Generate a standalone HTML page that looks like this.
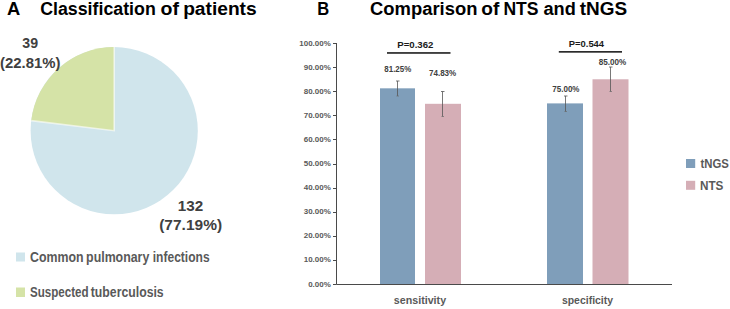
<!DOCTYPE html>
<html><head><meta charset="utf-8"><style>
html,body{margin:0;padding:0;background:#fff;overflow:hidden;width:730px;height:309px;}
svg{display:block;}
text{font-family:"Liberation Sans",sans-serif;}
</style></head><body>
<svg width="730" height="309" viewBox="0 0 730 309">
<rect width="730" height="309" fill="#fff"/>
<circle cx="114.2" cy="130.7" r="83.6" fill="#d0e5ec"/>
<path d="M114.2 130.7 L114.2 47.099999999999994 A83.6 83.6 0 0 0 31.21 120.66 Z" fill="#d5e3a7"/>
<path d="M31.21 120.66 L114.2 130.7 L114.2 47.099999999999994" fill="none" stroke="#fff" stroke-opacity="0.6" stroke-width="1.6"/>
<rect x="16" y="252.5" width="9" height="9" fill="#d0e5ec"/>
<rect x="16" y="287.5" width="9" height="9.5" fill="#d5e3a7"/>
<rect x="380" y="88.33" width="35" height="195.67" fill="#7f9eba"/><rect x="425" y="103.81" width="36" height="180.19" fill="#d5aeb6"/><rect x="547" y="103.40" width="36" height="180.60" fill="#7f9eba"/><rect x="592.5" y="79.28" width="36.0" height="204.72" fill="#d5aeb6"/>
<line x1="397.5" y1="81" x2="397.5" y2="96" stroke="#555555" stroke-width="0.8"/><line x1="396.0" y1="81" x2="399.5" y2="81" stroke="#555555" stroke-width="0.8"/><line x1="396.5" y1="96" x2="399.0" y2="96" stroke="#6a6a6a" stroke-width="0.7"/><line x1="442.5" y1="91.5" x2="442.5" y2="116.5" stroke="#555555" stroke-width="0.8"/><line x1="441.0" y1="91.5" x2="444.5" y2="91.5" stroke="#555555" stroke-width="0.8"/><line x1="441.5" y1="116.5" x2="444.0" y2="116.5" stroke="#6a6a6a" stroke-width="0.7"/><line x1="565.5" y1="96" x2="565.5" y2="111.5" stroke="#555555" stroke-width="0.8"/><line x1="564.0" y1="96" x2="567.5" y2="96" stroke="#555555" stroke-width="0.8"/><line x1="564.5" y1="111.5" x2="567.0" y2="111.5" stroke="#6a6a6a" stroke-width="0.7"/><line x1="610.5" y1="67" x2="610.5" y2="91.5" stroke="#555555" stroke-width="0.8"/><line x1="609.0" y1="67" x2="612.5" y2="67" stroke="#555555" stroke-width="0.8"/><line x1="609.5" y1="91.5" x2="612.0" y2="91.5" stroke="#6a6a6a" stroke-width="0.7"/>
<path d="M336.5 43 V284.5 H672" fill="none" stroke="#4a4a4a" stroke-width="1"/>
<line x1="333" y1="284.5" x2="336.5" y2="284.5" stroke="#4a4a4a" stroke-width="1"/><line x1="333" y1="260.5" x2="336.5" y2="260.5" stroke="#4a4a4a" stroke-width="1"/><line x1="333" y1="236.5" x2="336.5" y2="236.5" stroke="#4a4a4a" stroke-width="1"/><line x1="333" y1="212.5" x2="336.5" y2="212.5" stroke="#4a4a4a" stroke-width="1"/><line x1="333" y1="188.5" x2="336.5" y2="188.5" stroke="#4a4a4a" stroke-width="1"/><line x1="333" y1="164.5" x2="336.5" y2="164.5" stroke="#4a4a4a" stroke-width="1"/><line x1="333" y1="139.5" x2="336.5" y2="139.5" stroke="#4a4a4a" stroke-width="1"/><line x1="333" y1="115.5" x2="336.5" y2="115.5" stroke="#4a4a4a" stroke-width="1"/><line x1="333" y1="91.5" x2="336.5" y2="91.5" stroke="#4a4a4a" stroke-width="1"/><line x1="333" y1="67.5" x2="336.5" y2="67.5" stroke="#4a4a4a" stroke-width="1"/><line x1="333" y1="43.5" x2="336.5" y2="43.5" stroke="#4a4a4a" stroke-width="1"/>
<rect x="387" y="52.1" width="63.5" height="1.7" fill="#2b2b2b"/><rect x="558.8" y="51.0" width="63.2" height="1.7" fill="#2b2b2b"/>
<rect x="686" y="159" width="9.2" height="9" fill="#7f9eba"/>
<rect x="686" y="180.8" width="9.2" height="9" fill="#d5aeb6"/>
<text x="6.94" y="14.80" font-size="19.055" font-weight="bold" fill="#000000" textLength="13.26" lengthAdjust="spacingAndGlyphs">A</text>
<text x="40.19" y="14.80" font-size="19.055" font-weight="bold" fill="#000000" textLength="115.57" lengthAdjust="spacingAndGlyphs">Classification</text>
<text x="160.62" y="14.80" font-size="19.055" font-weight="bold" fill="#000000" textLength="18.46" lengthAdjust="spacingAndGlyphs">of</text>
<text x="183.15" y="14.80" font-size="19.055" font-weight="bold" fill="#000000" textLength="73.54" lengthAdjust="spacingAndGlyphs">patients</text>
<text x="317.28" y="15.00" font-size="18.764" font-weight="bold" fill="#000000" textLength="11.96" lengthAdjust="spacingAndGlyphs">B</text>
<text x="370.06" y="15.00" font-size="18.764" font-weight="bold" fill="#000000" textLength="107.37" lengthAdjust="spacingAndGlyphs">Comparison</text>
<text x="481.24" y="15.00" font-size="18.764" font-weight="bold" fill="#000000" textLength="18.04" lengthAdjust="spacingAndGlyphs">of</text>
<text x="503.42" y="15.00" font-size="18.764" font-weight="bold" fill="#000000" textLength="35.09" lengthAdjust="spacingAndGlyphs">NTS</text>
<text x="543.45" y="15.00" font-size="18.764" font-weight="bold" fill="#000000" textLength="32.33" lengthAdjust="spacingAndGlyphs">and</text>
<text x="579.76" y="15.00" font-size="18.764" font-weight="bold" fill="#000000" textLength="47.40" lengthAdjust="spacingAndGlyphs">tNGS</text>
<text x="22.28" y="48.00" font-size="13.763" font-weight="bold" fill="#404040" textLength="15.75" lengthAdjust="spacingAndGlyphs">39</text>
<text x="-0.05" y="68.00" font-size="13.763" font-weight="bold" fill="#404040" textLength="60.49" lengthAdjust="spacingAndGlyphs">(22.81%)</text>
<text x="177.85" y="210.90" font-size="13.763" font-weight="bold" fill="#404040" textLength="25.37" lengthAdjust="spacingAndGlyphs">132</text>
<text x="159.23" y="230.00" font-size="13.907" font-weight="bold" fill="#404040" textLength="62.85" lengthAdjust="spacingAndGlyphs">(77.19%)</text>
<text x="30.11" y="261.90" font-size="14.691" font-weight="bold" fill="#595959" textLength="53.44" lengthAdjust="spacingAndGlyphs">Common</text>
<text x="86.10" y="261.90" font-size="14.691" font-weight="bold" fill="#595959" textLength="63.19" lengthAdjust="spacingAndGlyphs">pulmonary</text>
<text x="152.76" y="261.90" font-size="14.691" font-weight="bold" fill="#595959" textLength="56.83" lengthAdjust="spacingAndGlyphs">infections</text>
<text x="29.95" y="297.40" font-size="14.691" font-weight="bold" fill="#595959" textLength="58.60" lengthAdjust="spacingAndGlyphs">Suspected</text>
<text x="90.75" y="297.40" font-size="14.691" font-weight="bold" fill="#595959" textLength="72.96" lengthAdjust="spacingAndGlyphs">tuberculosis</text>
<text x="308.16" y="286.50" font-size="7.742" font-weight="bold" fill="#595959" textLength="22.64" lengthAdjust="spacingAndGlyphs">0.00%</text>
<text x="303.73" y="262.40" font-size="7.742" font-weight="bold" fill="#595959" textLength="27.08" lengthAdjust="spacingAndGlyphs">10.00%</text>
<text x="303.73" y="238.30" font-size="7.742" font-weight="bold" fill="#595959" textLength="27.08" lengthAdjust="spacingAndGlyphs">20.00%</text>
<text x="303.73" y="214.20" font-size="7.742" font-weight="bold" fill="#595959" textLength="27.08" lengthAdjust="spacingAndGlyphs">30.00%</text>
<text x="303.73" y="190.10" font-size="7.742" font-weight="bold" fill="#595959" textLength="27.08" lengthAdjust="spacingAndGlyphs">40.00%</text>
<text x="303.73" y="166.00" font-size="7.742" font-weight="bold" fill="#595959" textLength="27.08" lengthAdjust="spacingAndGlyphs">50.00%</text>
<text x="303.73" y="141.90" font-size="7.742" font-weight="bold" fill="#595959" textLength="27.08" lengthAdjust="spacingAndGlyphs">60.00%</text>
<text x="303.73" y="117.80" font-size="7.742" font-weight="bold" fill="#595959" textLength="27.08" lengthAdjust="spacingAndGlyphs">70.00%</text>
<text x="303.73" y="93.70" font-size="7.742" font-weight="bold" fill="#595959" textLength="27.08" lengthAdjust="spacingAndGlyphs">80.00%</text>
<text x="303.73" y="69.60" font-size="7.742" font-weight="bold" fill="#595959" textLength="27.08" lengthAdjust="spacingAndGlyphs">90.00%</text>
<text x="299.30" y="45.50" font-size="7.742" font-weight="bold" fill="#595959" textLength="31.52" lengthAdjust="spacingAndGlyphs">100.00%</text>
<text x="397.25" y="48.00" font-size="9.891" font-weight="bold" fill="#1a1a1a" textLength="36.14" lengthAdjust="spacingAndGlyphs">P=0.362</text>
<text x="568.87" y="47.00" font-size="9.891" font-weight="bold" fill="#1a1a1a" textLength="35.19" lengthAdjust="spacingAndGlyphs">P=0.544</text>
<text x="384.34" y="72.00" font-size="8.315" font-weight="bold" fill="#404040" textLength="26.87" lengthAdjust="spacingAndGlyphs">81.25%</text>
<text x="428.96" y="76.00" font-size="8.315" font-weight="bold" fill="#404040" textLength="27.26" lengthAdjust="spacingAndGlyphs">74.83%</text>
<text x="552.26" y="92.00" font-size="8.315" font-weight="bold" fill="#404040" textLength="27.26" lengthAdjust="spacingAndGlyphs">75.00%</text>
<text x="598.74" y="65.00" font-size="8.315" font-weight="bold" fill="#404040" textLength="27.48" lengthAdjust="spacingAndGlyphs">85.00%</text>
<text x="393.83" y="304.10" font-size="11.374" font-weight="bold" fill="#595959" textLength="52.24" lengthAdjust="spacingAndGlyphs">sensitivity</text>
<text x="561.93" y="304.10" font-size="11.374" font-weight="bold" fill="#595959" textLength="51.13" lengthAdjust="spacingAndGlyphs">specificity</text>
<text x="700.56" y="167.80" font-size="12.218" font-weight="bold" fill="#595959" textLength="28.40" lengthAdjust="spacingAndGlyphs">tNGS</text>
<text x="699.91" y="189.60" font-size="12.509" font-weight="bold" fill="#595959" textLength="23.46" lengthAdjust="spacingAndGlyphs">NTS</text>
</svg>
</body></html>
